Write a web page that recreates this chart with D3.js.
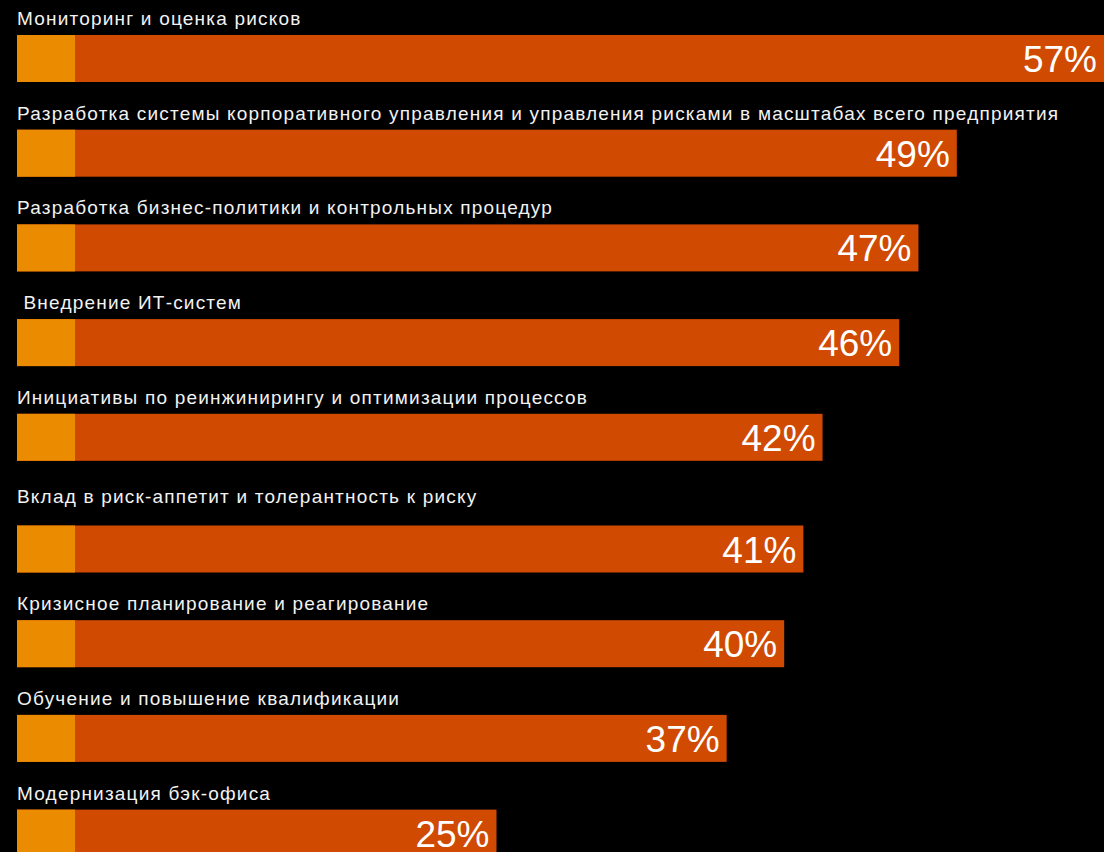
<!DOCTYPE html>
<html>
<head>
<meta charset="utf-8">
<script src="https://cdn.jsdelivr.net/npm/d3@7"></script>
<style>
  html, body { margin: 0; padding: 0; background: #000; overflow: hidden; }
  svg { display: block; }
  .cat { font-family: "Liberation Sans", Arial, sans-serif; font-size: 19px; letter-spacing: 1.2px; fill: #f2f2f2; white-space: pre; }
  .val { font-family: "Liberation Sans", Arial, sans-serif; font-size: 37px; fill: #ffffff; }
</style>
</head>
<body>
<svg id="chart" width="1104" height="852"></svg>
<script>
// Survey areas and share of respondents (%)
const categories = [
  "Мониторинг и оценка рисков",
  "Разработка системы корпоративного управления и управления рисками в масштабах всего предприятия",
  "Разработка бизнес-политики и контрольных процедур",
  " Внедрение ИТ-систем",
  "Инициативы по реинжинирингу и оптимизации процессов",
  "Вклад в риск-аппетит и толерантность к риску",
  "Кризисное планирование и реагирование",
  "Обучение и повышение квалификации",
  "Модернизация бэк-офиса"
];
const values = [57, 49, 47, 46, 42, 41, 40, 37, 25];
const valueLabels = ["57%", "49%", "47%", "46%", "42%", "41%", "40%", "37%", "25%"];

const width = 1104, height = 852;
const left = 17;
const barH = 47;
const stubW = 58;          // lighter lead-in block at the start of each bar
const gapRow = 5;          // a wider gap opens before this row
const gapSize = 17;

const svg = d3.select("#chart");

const x = d3.scaleLinear().domain([0, 100]).range([left, left + 1918]);
const band = d3.scaleBand()
  .domain(d3.range(categories.length))
  .range([35, 35 + 94.7 * categories.length])
  .paddingInner(0);

const rowTop = i => band(i) + (i >= gapRow ? gapSize : 0);
const labelY = i => rowTop(i) - 10 - (i === gapRow ? 13 : 0);

const rows = svg.selectAll("g.row")
  .data(values)
  .join("g")
  .attr("class", "row");

rows.append("rect")
  .attr("x", x(0))
  .attr("y", (d, i) => rowTop(i))
  .attr("width", d => x(d) - x(0))
  .attr("height", barH)
  .attr("fill", "#D04A02");

rows.append("rect")
  .attr("x", x(0))
  .attr("y", (d, i) => rowTop(i))
  .attr("width", stubW)
  .attr("height", barH)
  .attr("fill", "#EB8C00");

rows.append("text")
  .attr("class", "cat")
  .attr("x", left)
  .attr("y", (d, i) => labelY(i))
  .text((d, i) => categories[i]);

rows.append("text")
  .attr("class", "val")
  .attr("x", d => Math.min(x(d), width) - 7)
  .attr("y", (d, i) => rowTop(i) + 37)
  .attr("text-anchor", "end")
  .text((d, i) => valueLabels[i]);
</script>
</body>
</html>
